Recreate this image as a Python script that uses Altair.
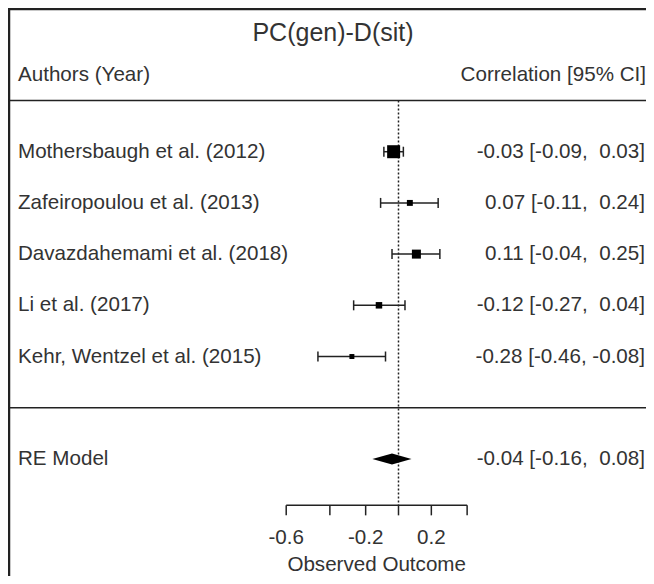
import altair as alt
import numpy as np
import pandas as pd

# ---- data ----
authors = ["Mothersbaugh et al. (2012)", "Zafeiropoulou et al. (2013)",
           "Davazdahemami et al. (2018)", "Li et al. (2017)",
           "Kehr, Wentzel et al. (2015)"]
est = [-0.03, 0.07, 0.11, -0.12, -0.28]
ci_lo = [-0.09, -0.11, -0.04, -0.27, -0.46]
ci_hi = [0.03, 0.24, 0.25, 0.04, -0.08]
weights = [48, 10, 23, 12, 7]
re_label = "RE Model"
re_est, re_lo, re_hi = -0.04, -0.16, 0.08
tick_vals = [-0.6, -0.4, -0.2, 0.0, 0.2, 0.4]
tick_labels = ["-0.6", "", "-0.2", "", "0.2", ""]
title_text = "PC(gen)-D(sit)"
left_header = "Authors (Year)"
right_header = "Correlation [95% CI]"
axis_title = "Observed Outcome"

# ---- layout ----
W, H = 638, 568
FONT = "Liberation Sans"
TXT = "#333333"
LINE = "#222222"
FS = 20.6

xs = alt.Scale(domain=[-2.4105, 1.5278], nice=False, zero=False)
ys = alt.Scale(domain=[-3.287, 7.807], nice=False, zero=False)


def X(f):
    return alt.X(f, type="quantitative", scale=xs, axis=None)


def Y(f):
    return alt.Y(f, type="quantitative", scale=ys, axis=None)


def fmt(e, l, h):
    s = f"{e:.2f} [{l:5.2f}, {h:5.2f}]"
    return s.replace("  ", " \u00a0")


k = len(authors)
rows = list(range(k, 0, -1))
studies = pd.DataFrame({
    "author": authors,
    "row": rows,
    "z_est": np.arctanh(est),
    "z_lo": np.arctanh(ci_lo),
    "z_hi": np.arctanh(ci_hi),
    "w": weights,
    "label": [fmt(e, l, h) for e, l, h in zip(est, ci_lo, ci_hi)],
})

re_row = -1
re_df = pd.DataFrame({"author": [re_label], "row": [re_row],
                      "label": [fmt(re_est, re_lo, re_hi)]})
dh = 0.108
diamond = pd.DataFrame({
    "z": np.arctanh([re_lo, re_est, re_hi]),
    "top": [re_row, re_row + dh, re_row],
    "bot": [re_row, re_row - dh, re_row],
})

axis_row = -1.907
label_row = -2.55
atitle_row = -3.07
z_ticks = np.arctanh(tick_vals)
ticks = pd.DataFrame({"z": z_ticks, "lab": tick_labels, "y": axis_row})
axis_line = pd.DataFrame({"z1": [z_ticks[0]], "z2": [z_ticks[-1]], "y": [axis_row]})
atitle = pd.DataFrame({"z": [(z_ticks[0] + z_ticks[-1]) / 2], "y": [atitle_row], "t": [axis_title]})

ref_line = pd.DataFrame({"z": [0.0], "y1": [k + 1], "y2": [axis_row]})
hlines = pd.DataFrame({"row": [k + 1, 0]})
headers = pd.DataFrame({"row": [6.505], "l": [left_header], "r": [right_header]})
title_df = pd.DataFrame({"row": [7.32], "t": [title_text]})

txt = dict(font=FONT, fontSize=FS, color=TXT, baseline="middle")

layers = [
    # border (left and top)
    alt.Chart(pd.DataFrame({"a": [0]})).mark_rule(color=LINE, strokeWidth=2.5).encode(
        x=alt.value(1), y=alt.value(0), y2=alt.value(H)),
    alt.Chart(pd.DataFrame({"a": [0]})).mark_rule(color=LINE, strokeWidth=2.5).encode(
        x=alt.value(0), x2=alt.value(W), y=alt.value(1)),
    # header separators
    alt.Chart(hlines).mark_rule(color=LINE, strokeWidth=1.5).encode(
        x=alt.value(0), x2=alt.value(W), y=Y("row")),
    # titles
    alt.Chart(title_df).mark_text(align="center", **{**txt, "fontSize": 25}).encode(
        x=alt.value(325), y=Y("row"), text="t:N"),
    alt.Chart(headers).mark_text(align="left", **txt).encode(
        x=alt.value(10), y=Y("row"), text="l:N"),
    alt.Chart(headers).mark_text(align="right", **txt).encode(
        x=alt.value(638), y=Y("row"), text="r:N"),
    # reference line
    alt.Chart(ref_line).mark_rule(color=LINE, strokeWidth=1.5, strokeDash=[2, 2]).encode(
        x=X("z"), y=Y("y1"), y2="y2"),
    # study rows
    alt.Chart(studies).mark_text(align="left", **txt).encode(
        x=alt.value(10), y=Y("row"), text="author:N"),
    alt.Chart(studies).mark_text(align="right", **txt).encode(
        x=alt.value(637), y=Y("row"), text="label:N"),
    alt.Chart(studies).mark_rule(color=LINE, strokeWidth=1.5).encode(
        x=X("z_lo"), x2="z_hi", y=Y("row")),
    alt.Chart(studies).mark_tick(orient="vertical", size=10, thickness=1.5, color=LINE, opacity=1).encode(
        x=X("z_lo"), y=Y("row")),
    alt.Chart(studies).mark_tick(orient="vertical", size=10, thickness=1.5, color=LINE, opacity=1).encode(
        x=X("z_hi"), y=Y("row")),
    alt.Chart(studies).mark_square(filled=True, color="black", opacity=1).encode(
        x=X("z_est"), y=Y("row"),
        size=alt.Size("w:Q", scale=alt.Scale(domain=[0, 48], range=[0, 169]), legend=None)),
    # RE model
    alt.Chart(re_df).mark_text(align="left", **txt).encode(
        x=alt.value(10), y=Y("row"), text="author:N"),
    alt.Chart(re_df).mark_text(align="right", **txt).encode(
        x=alt.value(637), y=Y("row"), text="label:N"),
    alt.Chart(diamond).mark_area(color="black", opacity=1).encode(
        x=X("z"), y=Y("top"), y2="bot"),
    # axis
    alt.Chart(axis_line).mark_rule(color=LINE, strokeWidth=1.5).encode(
        x=X("z1"), x2="z2", y=Y("y")),
    alt.Chart(ticks).mark_rule(color=LINE, strokeWidth=1.5, y2Offset=10).encode(
        x=X("z"), y=Y("y"), y2="y"),
    alt.Chart(ticks).mark_text(align="center", **txt).encode(
        x=X("z"), y=alt.Y(datum=label_row, type="quantitative", scale=ys, axis=None), text="lab:N"),
    alt.Chart(atitle).mark_text(align="center", **txt).encode(
        x=X("z"), y=Y("y"), text="t:N"),
]

chart = alt.layer(*layers).properties(
    width=W, height=H, padding=0,
    autosize=alt.AutoSizeParams(type="none"),
    background="white",
).configure_view(stroke=None)

chart.save("out.html", embed_options={"renderer": "svg", "actions": False})
